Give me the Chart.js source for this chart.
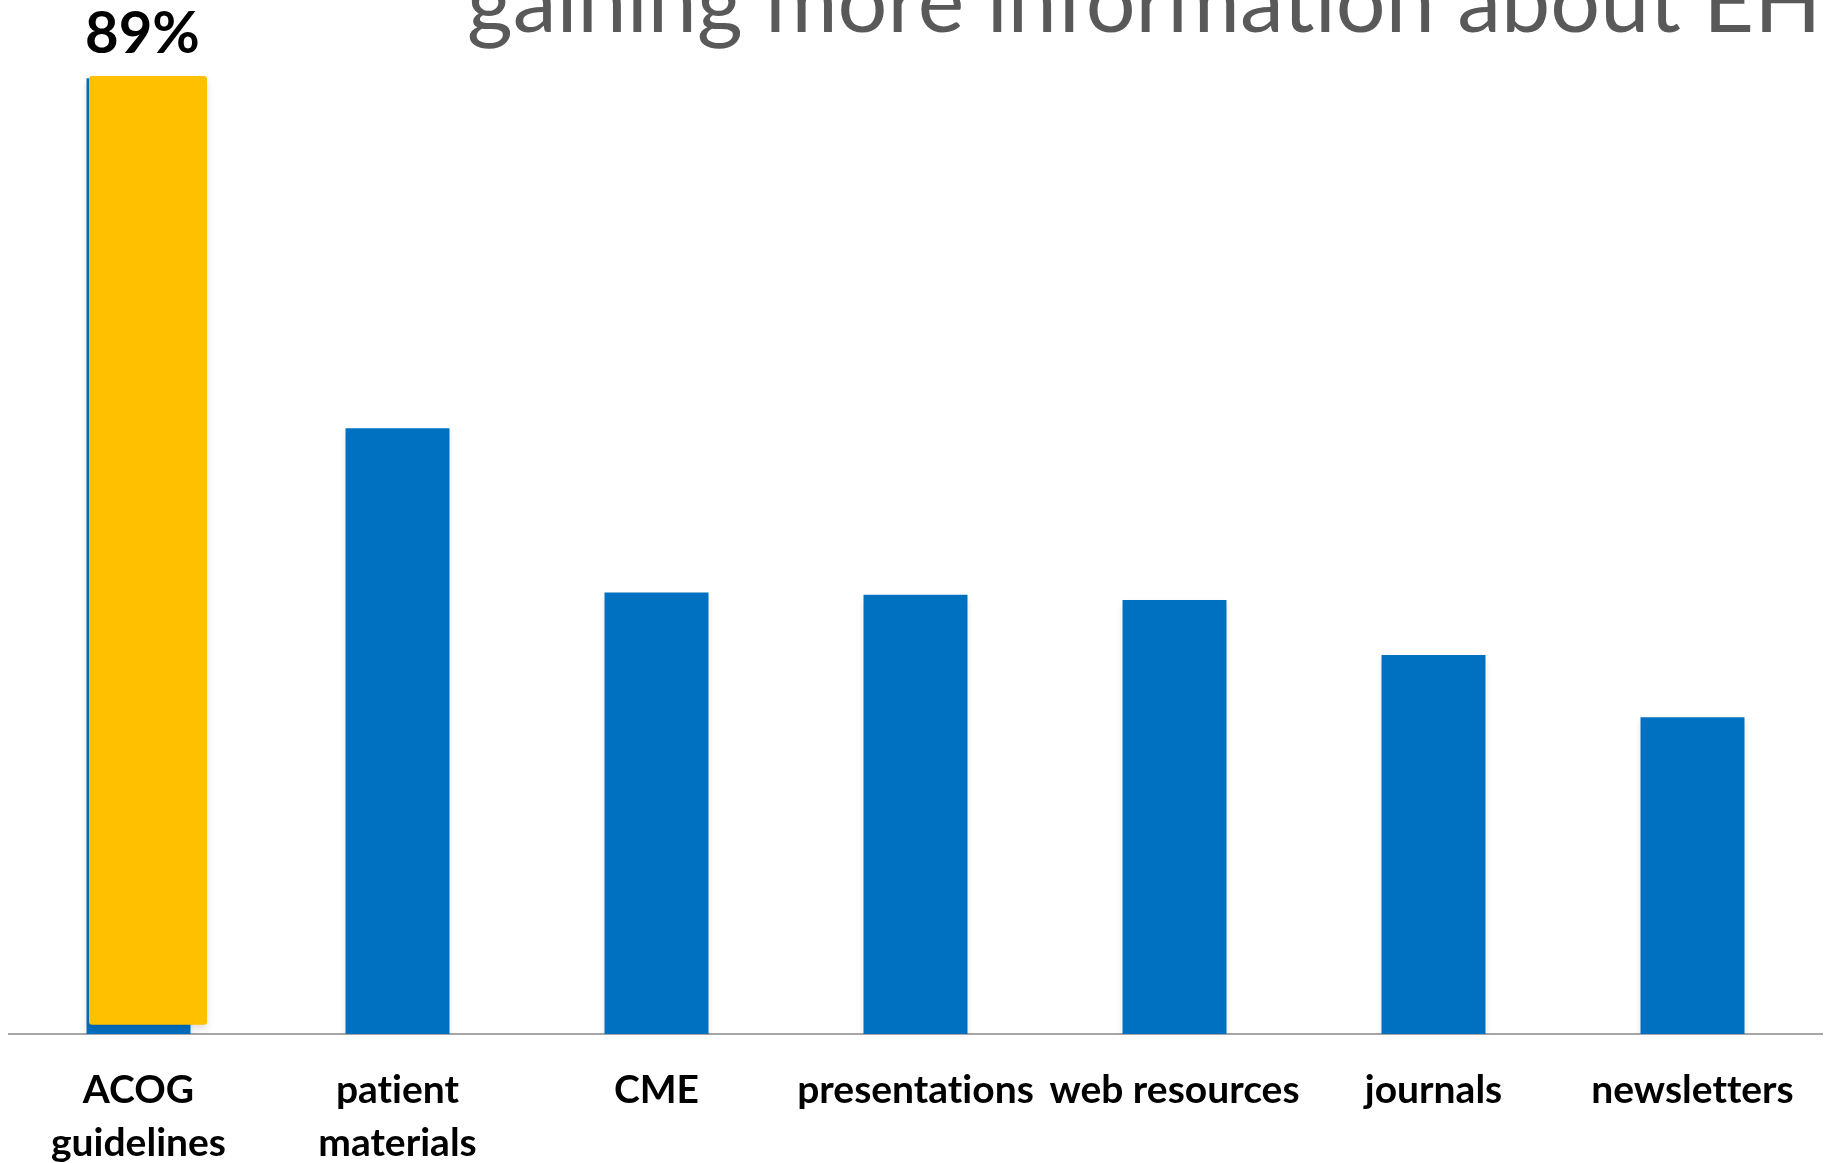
<!DOCTYPE html>
<html>
<head>
<meta charset="utf-8">
<script src="https://cdn.jsdelivr.net/npm/chart.js@4.4.1/dist/chart.umd.min.js"></script>
<style>
  html, body { margin: 0; padding: 0; background: #ffffff; }
  #wrap { position: relative; width: 1831px; height: 1163px; overflow: hidden; background: #ffffff; }
  #c { position: absolute; left: 0; top: -40px; font-variant-ligatures: none; }
</style>
</head>
<body>
<div id="wrap"><canvas id="c" width="1831" height="1203"></canvas></div>
<script>
// ---- data ----
const categories = [["ACOG", "guidelines"], ["patient", "materials"], "CME", "presentations", "web resources", "journals", "newsletters"];
const values = [89, 56.4, 41.1, 40.9, 40.4, 35.3, 29.5];
const highlightLow = [0.85, null, null, null, null, null, null];
const highlightHigh = [89.2, null, null, null, null, null, null];
const labelledIndices = [0];
const titleText = "gaining more information about EH";
const yMin = 0;
const yMax = 100;

// ---- styles ----
const BLUE = "#0070C0";
const YELLOW = "#FFC000";

const highlightData = highlightLow.map((lo, i) => (lo === null ? null : [lo, highlightHigh[i]]));

const noLigatures = {
  id: "noLigatures",
  beforeDraw(chart) {
    try { chart.ctx.textRendering = "optimizeSpeed"; } catch (e) {}
  }
};

const shiftHighlight = {
  id: "shiftHighlight",
  afterDatasetsUpdate(chart) {
    const meta = chart.getDatasetMeta(0);
    meta.data.forEach(el => { el.x += 9.5; });
  }
};

const barShadow = {
  id: "barShadow",
  beforeDatasetsDraw(chart) {
    const ctx = chart.ctx;
    ctx.save();
    ctx.shadowColor = "rgba(0,0,0,0.13)";
    ctx.shadowBlur = 7;
    ctx.shadowOffsetX = 0;
    ctx.shadowOffsetY = 4;
  },
  afterDatasetsDraw(chart) {
    chart.ctx.restore();
  }
};

const valueLabels = {
  id: "valueLabels",
  afterDatasetsDraw(chart) {
    const ctx = chart.ctx;
    const meta = chart.getDatasetMeta(1);
    ctx.save();
    ctx.font = "bold 58px Lato, 'Open Sans', sans-serif";
    ctx.fillStyle = "#000000";
    ctx.textAlign = "center";
    ctx.textBaseline = "alphabetic";
    labelledIndices.forEach(i => {
      const el = meta.data[i];
      ctx.fillText(Math.round(values[i]) + "%", el.x + 4, el.y - 25);
    });
    ctx.restore();
  }
};

const slideTitle = {
  id: "slideTitle",
  afterDraw(chart) {
    const ctx = chart.ctx;
    ctx.save();
    ctx.font = "400 88px Lato, 'Open Sans', sans-serif";
    ctx.fillStyle = "#595959";
    ctx.textAlign = "left";
    ctx.textBaseline = "alphabetic";
    ctx.fillText(titleText, 467, 72);
    ctx.restore();
  }
};

new Chart(document.getElementById("c"), {
  type: "bar",
  data: {
    labels: categories,
    datasets: [
      {
        label: "highlight",
        data: highlightData,
        backgroundColor: YELLOW,
        borderRadius: 3,
        borderSkipped: false,
        grouped: false,
        barPercentage: 0.4556,
        categoryPercentage: 1.0,
        order: 0
      },
      {
        label: "share",
        data: values,
        backgroundColor: BLUE,
        grouped: false,
        barPercentage: 0.4015,
        categoryPercentage: 1.0,
        order: 1
      }
    ]
  },
  options: {
    responsive: false,
    animation: false,
    events: [],
    layout: { padding: { top: 0, left: 9, right: 9, bottom: 0 } },
    plugins: {
      legend: { display: false },
      title: { display: false },
      tooltip: { enabled: false }
    },
    scales: {
      x: {
        grid: { display: false, drawTicks: false },
        border: { display: true, color: "#A6A6A6", width: 2 },
        ticks: {
          autoSkip: false,
          maxRotation: 0,
          minRotation: 0,
          padding: 30,
          color: "#000000",
          font: { family: "Lato, 'Open Sans', sans-serif", weight: "bold", size: 39, lineHeight: 1.35 }
        },
        afterFit(scale) { scale.height = 129; }
      },
      y: {
        display: false,
        min: yMin,
        max: yMax
      }
    }
  },
  plugins: [noLigatures, shiftHighlight, barShadow, valueLabels, slideTitle]
});
</script>
</body>
</html>
